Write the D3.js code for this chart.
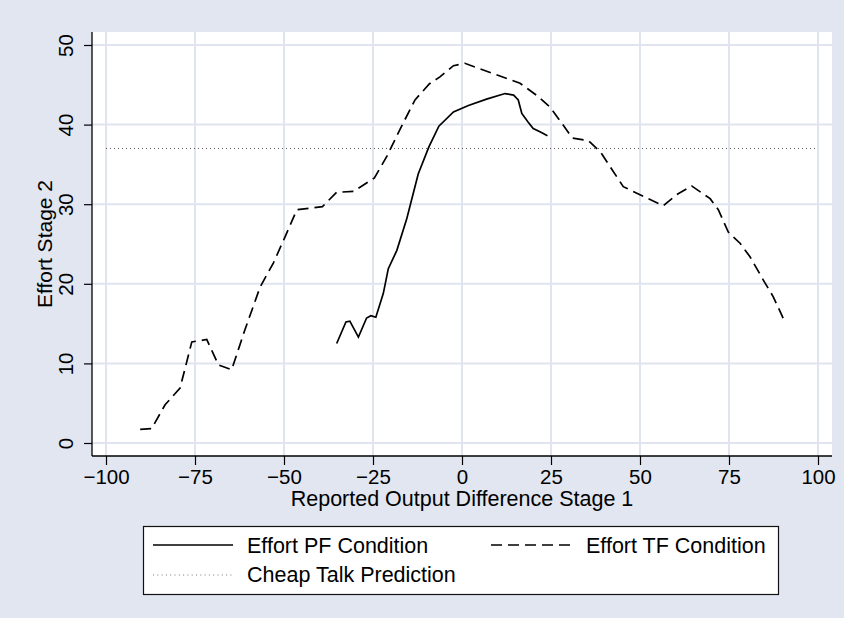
<!DOCTYPE html>
<html>
<head>
<meta charset="utf-8">
<script src="https://cdn.jsdelivr.net/npm/d3@7"></script>
<style>
  body { margin: 0; background: #e1e6f0; }
  text { font-family: "Liberation Sans", Arial, Helvetica, sans-serif; fill: #000; }
</style>
</head>
<body>
<div id="chart"></div>
<script>
// values
const tfX = [-90.4, -87.2, -83.4, -79.2, -75.9, -71.7, -68.4, -64.7, -61, -56.7, -53, -49.7, -46.4, -39.2, -35.2, -30.5, -24.6, -21, -17.2, -13.2, -9.2, -6.2, -2.4, 0.8, 8.8, 16.3, 21.5, 24.7, 28, 31, 35.5, 39, 45.3, 50, 56.5, 60.3, 64.5, 69.7, 72, 74.8, 78.1, 80.9, 84.6, 87.4, 90.2];
const tfY = [1.7, 1.8, 4.8, 6.9, 12.7, 13.0, 9.8, 9.2, 14.2, 19.6, 22.6, 25.9, 29.3, 29.7, 31.5, 31.6, 33.3, 36.1, 39.6, 43.1, 45.1, 46.0, 47.4, 47.7, 46.4, 45.2, 43.5, 42.2, 40.2, 38.3, 38.0, 36.5, 32.2, 31.2, 29.8, 31.2, 32.3, 30.7, 29.3, 26.5, 25.1, 23.4, 20.5, 18.4, 15.7];

const pfX = [-35.2, -32.6, -31.5, -29.1, -26.8, -25.6, -24.2, -22.1, -20.7, -18.3, -15.5, -12.3, -9.3, -6.5, -2.4, 1.8, 6.9, 12.1, 14.5, 15.8, 16.8, 18.6, 20, 21.9, 24];
const pfY = [12.5, 15.2, 15.3, 13.3, 15.7, 16.0, 15.8, 18.8, 21.9, 24.2, 28.2, 33.8, 37.2, 39.8, 41.6, 42.4, 43.2, 43.9, 43.7, 43.1, 41.4, 40.3, 39.5, 39.1, 38.6];

const cheapTalk = 37;
const xTicks = [-100, -75, -50, -25, 0, 25, 50, 75, 100];
const yTicks = [0, 10, 20, 30, 40, 50];
const legendLabels = ["Effort PF Condition", "Effort TF Condition", "Cheap Talk Prediction"];

const W = 844, H = 618;
const plot = { left: 92, right: 832, top: 32, bottom: 456 };
const bg = "#e1e6f0", grid = "#dfe4ef";

const svg = d3.select("#chart").append("svg")
  .attr("width", W).attr("height", H);

svg.append("rect").attr("width", W).attr("height", H).attr("fill", bg);
svg.append("rect")
  .attr("x", plot.left).attr("y", plot.top)
  .attr("width", plot.right - plot.left).attr("height", plot.bottom - plot.top)
  .attr("fill", "#fff");

const x = d3.scaleLinear().domain([-100, 100]).range([106, 818]);
const y = d3.scaleLinear().domain([0, 50]).range([443, 45]);

// grid
svg.append("g").selectAll("line").data(yTicks).enter().append("line")
  .attr("x1", plot.left).attr("x2", plot.right)
  .attr("y1", d => y(d)).attr("y2", d => y(d))
  .attr("stroke", grid).attr("stroke-width", 2);
svg.append("g").selectAll("line").data(xTicks).enter().append("line")
  .attr("y1", plot.top).attr("y2", plot.bottom)
  .attr("x1", d => x(d)).attr("x2", d => x(d))
  .attr("stroke", grid).attr("stroke-width", 2);

// cheap talk prediction
svg.append("line")
  .attr("x1", x(-100)).attr("x2", x(100))
  .attr("y1", y(cheapTalk)).attr("y2", y(cheapTalk))
  .attr("stroke", "#555").attr("stroke-width", 1)
  .attr("stroke-dasharray", "1,3");

const line = d3.line().x(d => x(d[0])).y(d => y(d[1]));

svg.append("path")
  .datum(tfX.map((v, i) => [v, tfY[i]]))
  .attr("d", line)
  .attr("fill", "none").attr("stroke", "#000").attr("stroke-width", 1.7)
  .attr("stroke-dasharray", "11,6");

svg.append("path")
  .datum(pfX.map((v, i) => [v, pfY[i]]))
  .attr("d", line)
  .attr("fill", "none").attr("stroke", "#000").attr("stroke-width", 1.7);

// axes
const xAxis = svg.append("g")
  .attr("transform", `translate(0,${plot.bottom})`)
  .call(d3.axisBottom(x).tickValues(xTicks).tickSize(9).tickSizeOuter(0));
xAxis.select(".domain").remove();
xAxis.selectAll(".tick line").attr("stroke", "#000").attr("stroke-width", 1.2);
xAxis.selectAll(".tick text")
  .attr("y", 28).attr("dy", 0)
  .style("font-size", "20.5px")
  .style("font-family", "'Liberation Sans', Arial, sans-serif")
  .attr("fill", "#000");

const yAxis = svg.append("g")
  .attr("transform", `translate(${plot.left},0)`)
  .call(d3.axisLeft(y).tickValues(yTicks).tickSize(8).tickSizeOuter(0));
yAxis.select(".domain").remove();
yAxis.selectAll(".tick line").attr("stroke", "#000").attr("stroke-width", 1.2);
yAxis.selectAll(".tick text")
  .attr("x", 0).attr("dy", 0)
  .attr("transform", "translate(-19,0) rotate(-90)")
  .attr("text-anchor", "middle")
  .style("font-size", "20.5px")
  .style("font-family", "'Liberation Sans', Arial, sans-serif")
  .attr("fill", "#000");

svg.append("line")
  .attr("x1", plot.left).attr("x2", plot.left)
  .attr("y1", plot.top).attr("y2", plot.bottom)
  .attr("stroke", "#000").attr("stroke-width", 1.3);
svg.append("line")
  .attr("x1", plot.left).attr("x2", plot.right)
  .attr("y1", plot.bottom).attr("y2", plot.bottom)
  .attr("stroke", "#000").attr("stroke-width", 1.3);

// axis titles
svg.append("text")
  .attr("x", (plot.left + plot.right) / 2).attr("y", 506)
  .attr("text-anchor", "middle").style("font-size", "21.5px")
  .text("Reported Output Difference Stage 1");
svg.append("text")
  .attr("transform", `translate(52,${(plot.top + plot.bottom) / 2}) rotate(-90)`)
  .attr("text-anchor", "middle").style("font-size", "21px")
  .text("Effort Stage 2");

// legend
const lg = svg.append("g");
lg.append("rect")
  .attr("x", 143.5).attr("y", 526.5).attr("width", 635).attr("height", 68)
  .attr("fill", "#fff").attr("stroke", "#111").attr("stroke-width", 1.2);

lg.append("line").attr("x1", 153).attr("x2", 233).attr("y1", 545).attr("y2", 545)
  .attr("stroke", "#000").attr("stroke-width", 1.7);
lg.append("line").attr("x1", 491).attr("x2", 572).attr("y1", 545).attr("y2", 545)
  .attr("stroke", "#000").attr("stroke-width", 1.7).attr("stroke-dasharray", "11,6");
lg.append("line").attr("x1", 153).attr("x2", 233).attr("y1", 575).attr("y2", 575)
  .attr("stroke", "#777").attr("stroke-width", 1).attr("stroke-dasharray", "1,3.3");

lg.append("text").attr("x", 247).attr("y", 552.5).style("font-size", "21.5px").text(legendLabels[0]);
lg.append("text").attr("x", 586).attr("y", 552.5).style("font-size", "21.5px").text(legendLabels[1]);
lg.append("text").attr("x", 247).attr("y", 581.5).style("font-size", "21.5px").text(legendLabels[2]);
</script>
</body>
</html>
